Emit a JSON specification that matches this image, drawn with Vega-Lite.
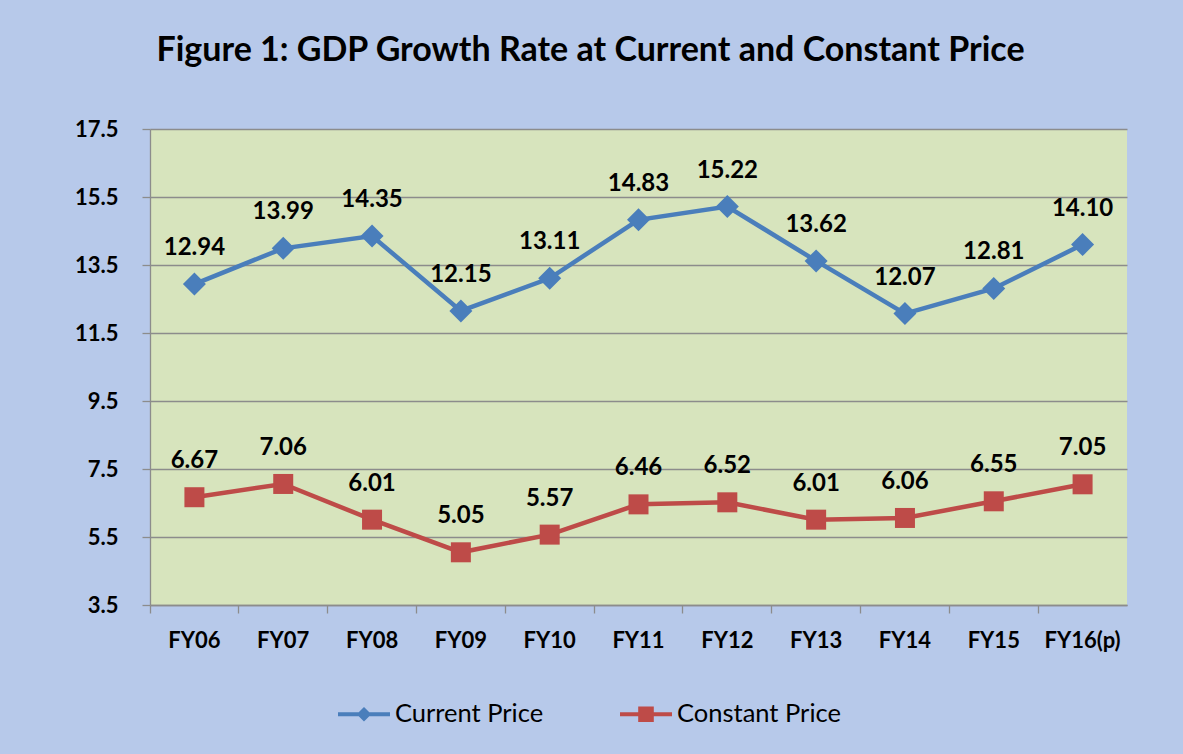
{
  "$schema": "https://vega.github.io/schema/vega-lite/v6.json",
  "width": 977,
  "height": 476,
  "autosize": {"type": "none"},
  "padding": {"left": 150, "top": 129, "right": 56, "bottom": 149},
  "background": "#B7C9EA",
  "title": {
    "text": "Figure 1: GDP Growth Rate at Current and Constant Price",
    "font": "Lato",
    "fontSize": 34,
    "fontWeight": "bold",
    "color": "#000000",
    "anchor": "middle",
    "dx": -48,
    "offset": 50
  },
  "config": {
    "view": {"fill": "#D7E4BD", "stroke": null},
    "font": "Lato"
  },
  "data": {
    "values": [
      {"fy": "FY06", "series": "Current Price", "value": 12.94},
      {"fy": "FY07", "series": "Current Price", "value": 13.99},
      {"fy": "FY08", "series": "Current Price", "value": 14.35},
      {"fy": "FY09", "series": "Current Price", "value": 12.15},
      {"fy": "FY10", "series": "Current Price", "value": 13.11},
      {"fy": "FY11", "series": "Current Price", "value": 14.83},
      {"fy": "FY12", "series": "Current Price", "value": 15.22},
      {"fy": "FY13", "series": "Current Price", "value": 13.62},
      {"fy": "FY14", "series": "Current Price", "value": 12.07},
      {"fy": "FY15", "series": "Current Price", "value": 12.81},
      {"fy": "FY16(p)", "series": "Current Price", "value": 14.10},
      {"fy": "FY06", "series": "Constant Price", "value": 6.67},
      {"fy": "FY07", "series": "Constant Price", "value": 7.06},
      {"fy": "FY08", "series": "Constant Price", "value": 6.01},
      {"fy": "FY09", "series": "Constant Price", "value": 5.05},
      {"fy": "FY10", "series": "Constant Price", "value": 5.57},
      {"fy": "FY11", "series": "Constant Price", "value": 6.46},
      {"fy": "FY12", "series": "Constant Price", "value": 6.52},
      {"fy": "FY13", "series": "Constant Price", "value": 6.01},
      {"fy": "FY14", "series": "Constant Price", "value": 6.06},
      {"fy": "FY15", "series": "Constant Price", "value": 6.55},
      {"fy": "FY16(p)", "series": "Constant Price", "value": 7.05}
    ]
  },
  "encoding": {
    "x": {
      "field": "fy",
      "type": "nominal",
      "sort": null,
      "scale": {"type": "band", "paddingInner": 0, "paddingOuter": 0},
      "axis": {
        "title": null,
        "labelAngle": 0,
        "labelFont": "Lato",
        "labelFontSize": 22,
        "labelFontWeight": "bold",
        "labelColor": "#000000",
        "labelPadding": 17,
        "bandPosition": 0,
        "tickSize": 8,
        "tickColor": "#8C8C8C",
        "tickWidth": 1.3,
        "domainColor": "#8C8C8C",
        "domainWidth": 1.3,
        "grid": false
      }
    },
    "y": {
      "field": "value",
      "type": "quantitative",
      "scale": {"domain": [3.5, 17.5], "nice": false, "zero": false},
      "axis": {
        "title": null,
        "values": [3.5, 5.5, 7.5, 9.5, 11.5, 13.5, 15.5, 17.5],
        "format": ".1f",
        "labelFont": "Lato",
        "labelFontSize": 22,
        "labelFontWeight": "bold",
        "labelColor": "#000000",
        "labelPadding": 24,
        "tickSize": 8,
        "tickColor": "#8C8C8C",
        "tickWidth": 1.3,
        "domainColor": "#8C8C8C",
        "domainWidth": 1.3,
        "grid": true,
        "gridColor": "#8C8C8C",
        "gridWidth": 1.3
      }
    },
    "color": {
      "field": "series",
      "type": "nominal",
      "sort": ["Current Price", "Constant Price"],
      "scale": {"domain": ["Current Price", "Constant Price"], "range": ["#4A7EBB", "#BE4B48"]},
      "legend": {
        "title": null,
        "orient": "none",
        "legendX": 188,
        "legendY": 559,
        "direction": "horizontal",
        "labelFont": "Lato",
        "labelFontSize": 25.5,
        "labelColor": "#000000",
        "labelLimit": 400,
        "labelOffset": 5,
        "columnPadding": 76,
        "symbolSize": 2704,
        "symbolStrokeWidth": 0,
        "encode": {
          "symbols": {
            "update": {
              "shape": {"signal": "datum.value === 'Current Price' ? 'M-1,-0.08H1V0.08H-1Z M0,-0.28L0.28,0L0,0.28L-0.28,0Z' : 'M-1,-0.08H1V0.08H-1Z M-0.3,-0.3H0.3V0.3H-0.3Z'"},
              "fill": {"signal": "datum.value === 'Current Price' ? '#4A7EBB' : '#BE4B48'"},
              "fillOpacity": {"value": 1},
              "opacity": {"value": 1},
              "strokeWidth": {"value": 0}
            }
          }
        }
      }
    }
  },
  "layer": [
    {
      "mark": {"type": "line", "strokeWidth": 4.5}
    },
    {
      "transform": [{"filter": "datum.series === 'Current Price'"}],
      "mark": {"type": "point", "filled": true, "opacity": 1, "shape": "diamond", "size": 529}
    },
    {
      "transform": [{"filter": "datum.series === 'Constant Price'"}],
      "mark": {"type": "point", "filled": true, "opacity": 1, "shape": "square", "size": 400}
    },
    {
      "mark": {"type": "text", "dy": -36, "baseline": "middle", "font": "Lato", "fontSize": 24, "fontWeight": "bold", "color": "#000000"},
      "encoding": {
        "text": {"field": "value", "type": "quantitative", "format": ".2f"},
        "color": {"value": "#000000"}
      }
    }
  ]
}
